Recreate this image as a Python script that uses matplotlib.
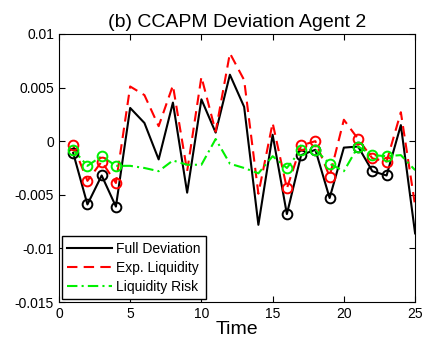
import matplotlib
matplotlib.use("Agg")
import matplotlib.pyplot as plt
import numpy as np

plt.rcParams["font.family"] = ["Liberation Sans", "DejaVu Sans"]

time = np.arange(1, 26)
full_dev = [-0.0011, -0.0059, -0.0032, -0.0061, 0.0031, 0.0017, -0.0017, 0.0036, -0.0048, 0.0039,
            0.0008, 0.0062, 0.0032, -0.0078, 0.0006, -0.0068, -0.0013, -0.0008, -0.0053, -0.0006,
            -0.0005, -0.0028, -0.0032, 0.0015, -0.0086]
exp_liq = [-0.0004, -0.0037, -0.0019, -0.0039, 0.0051, 0.0043, 0.0014, 0.0052, -0.0028, 0.0060,
           0.0009, 0.0082, 0.0057, -0.0049, 0.0017, -0.0044, -0.0004, 0.0000, -0.0033, 0.0020,
           0.0002, -0.0016, -0.0019, 0.0027, -0.0060]
liq_risk = [-0.0008, -0.0023, -0.0014, -0.0023, -0.0023, -0.0025, -0.0028, -0.0018, -0.0022, -0.0022,
            0.0002, -0.0021, -0.0025, -0.0030, -0.0014, -0.0025, -0.0008, -0.0008, -0.0021, -0.0028,
            -0.0005, -0.0013, -0.0014, -0.0013, -0.0027]
marked = [1, 2, 3, 4, 16, 17, 18, 19, 21, 22, 23]

yticks = [-0.015, -0.01, -0.005, 0, 0.005, 0.01]
ytick_labels = ["-0.015", "-0.01", "-0.005", "0", "0.005", "0.01"]
xticks = [0, 5, 10, 15, 20, 25]

fig = plt.figure(figsize=(4.24, 3.43), dpi=100)
ax = fig.add_axes([0.139, 0.1195, 0.84, 0.7815])

series = [
    (full_dev, "black", "-", "Full Deviation"),
    (exp_liq, "red", (0, (5, 3)), "Exp. Liquidity"),
    (liq_risk, "#00f000", (0, (5, 2, 1, 2)), "Liquidity Risk"),
]
idx = [t - 1 for t in marked]
for vals, col, ls, lab in series:
    ax.plot(time, vals, color=col, linestyle=ls, linewidth=1.5, label=lab)
for vals, col, ls, lab in series:
    ax.plot(time[idx], np.array(vals)[idx], linestyle="none", marker="o", markersize=7,
            markerfacecolor="none", markeredgecolor=col, markeredgewidth=1.4)

ax.set_xlim(0, 25)
ax.set_ylim(-0.015, 0.01)
ax.set_xticks(xticks)
ax.set_yticks(yticks)
ax.set_yticklabels(ytick_labels)
ax.tick_params(direction="in", top=True, right=True, labelsize=10, length=4)
ax.set_xlabel("Time", fontsize=14, labelpad=0)
ax.set_title("(b) CCAPM Deviation Agent 2", fontsize=14, pad=5)

leg = ax.legend(loc="lower left", fontsize=10, handlelength=3.2, fancybox=False,
                framealpha=1, borderaxespad=0.2, handletextpad=0.3, labelspacing=0.35)
leg.get_frame().set_edgecolor("black")
leg.get_frame().set_linewidth(1.0)

fig.savefig("out.png", dpi=100)
